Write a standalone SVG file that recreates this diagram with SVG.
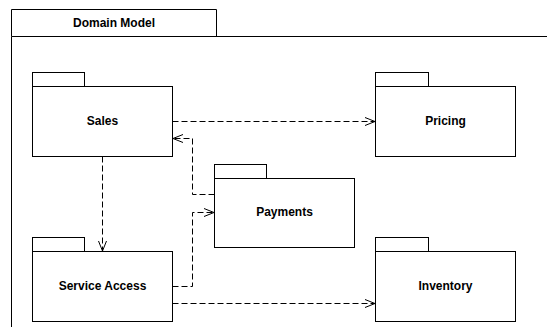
<svg xmlns="http://www.w3.org/2000/svg" width="547" height="327" viewBox="0 0 547 327">
  <style>
    .frame { fill: #ffffff; stroke: #000000; stroke-width: 1; }
    .pkg { fill: #ffffff; stroke: #000000; stroke-width: 1; }
    .label { font-family: "Liberation Sans", Arial, Helvetica, sans-serif; font-size: 12px; font-weight: bold; fill: #000000; text-anchor: middle; dominant-baseline: central; }
    .dep { fill: none; stroke: #000000; stroke-width: 1; stroke-dasharray: 6 3; }
  </style>
  <defs>
    <marker id="open" viewBox="0 0 12 10" refX="11" refY="5" markerWidth="12" markerHeight="10" markerUnits="userSpaceOnUse" orient="auto">
      <path d="M1,1 L11,5 L1,9" fill="none" stroke="#000000" stroke-width="1"/>
    </marker>
  </defs>
  <rect width="547" height="327" fill="#ffffff"/>

  <!-- enclosing package frame -->
  <g id="domain-model">
    <path class="frame" d="M11.5,36.5 V9.5 H216.5 V36.5"/>
    <path class="frame" d="M11.5,327 V36.5 H547" fill="none"/>
    <text class="label" x="114" y="23">Domain Model</text>
  </g>

  <g id="sales">
    <rect class="pkg" x="32.5" y="72.5" width="52" height="14"/>
    <rect class="pkg" x="32.5" y="86.5" width="140" height="70"/>
    <text class="label" x="102.5" y="121">Sales</text>
  </g>

  <g id="pricing">
    <rect class="pkg" x="375.5" y="72.5" width="53" height="14"/>
    <rect class="pkg" x="375.5" y="86.5" width="140" height="70"/>
    <text class="label" x="445.5" y="121">Pricing</text>
  </g>

  <g id="payments">
    <rect class="pkg" x="214.5" y="164.5" width="52" height="14"/>
    <rect class="pkg" x="214.5" y="178.5" width="140" height="69"/>
    <text class="label" x="284.5" y="212">Payments</text>
  </g>

  <g id="service-access">
    <rect class="pkg" x="32.5" y="237.5" width="52" height="14"/>
    <rect class="pkg" x="32.5" y="251.5" width="140" height="70"/>
    <text class="label" x="102.5" y="286">Service Access</text>
  </g>

  <g id="inventory">
    <rect class="pkg" x="375.5" y="237.5" width="53" height="14"/>
    <rect class="pkg" x="375.5" y="251.5" width="140" height="70"/>
    <text class="label" x="445.5" y="286">Inventory</text>
  </g>

  <g id="connectors">
    <path class="dep" d="M172.5,121.5 H375" marker-end="url(#open)"/>
    <path class="dep" d="M214.5,194.5 H192.5 V138.5 H173" marker-end="url(#open)"/>
    <path class="dep" d="M172.5,286.5 H192.5 V212.5 H214" marker-end="url(#open)"/>
    <path class="dep" d="M102.5,156.5 V251" marker-end="url(#open)"/>
    <path class="dep" d="M172.5,303.5 H375" marker-end="url(#open)"/>
  </g>
</svg>
